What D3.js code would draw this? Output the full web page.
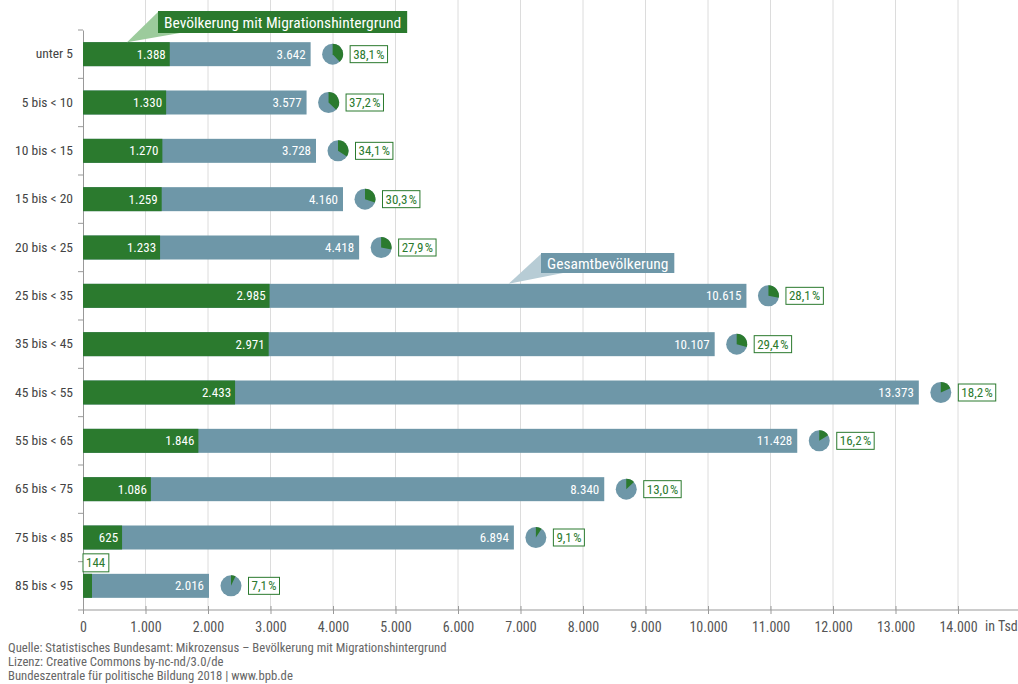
<!DOCTYPE html>
<html><head><meta charset="utf-8">
<script src="https://cdn.jsdelivr.net/npm/d3@7"></script>
<style>
html,body{margin:0;padding:0;background:#fff;}
svg{display:block;}
text{font-family:"Roboto Condensed","Liberation Sans Narrow","DejaVu Sans Condensed",Roboto,sans-serif;}
</style></head>
<body>
<svg id="chart" width="1018" height="684"></svg>
<script>
const categories = ["unter 5","5 bis < 10","10 bis < 15","15 bis < 20","20 bis < 25","25 bis < 35","35 bis < 45","45 bis < 55","55 bis < 65","65 bis < 75","75 bis < 85","85 bis < 95"];
const migration = [1388,1330,1270,1259,1233,2985,2971,2433,1846,1086,625,144];
const total = [3642,3577,3728,4160,4418,10615,10107,13373,11428,8340,6894,2016];
const share = [38.1,37.2,34.1,30.3,27.9,28.1,29.4,18.2,16.2,13.0,9.1,7.1];
const tickValues = [0,1000,2000,3000,4000,5000,6000,7000,8000,9000,10000,11000,12000,13000,14000];
const gridValues = [1000,2000,3000,4000,5000,6000,7000,8000,9000,10000,11000,12000,13000,14000,15000];
const footer = ["Quelle: Statistisches Bundesamt: Mikrozensus – Bevölkerung mit Migrationshintergrund","Lizenz: Creative Commons by-nc-nd/3.0/de","Bundeszentrale für politische Bildung 2018 | www.bpb.de"];

const GREEN = "#2b7a2e", BLUE = "#6e97a8", LGREEN = "#9ccb9c", LBLUE = "#b7ccd5";
const de = d3.formatLocale({decimal:",", thousands:".", grouping:[3], currency:["","€"]});
const fmt = de.format(",d");
const fmtP = v => de.format(".1f")(v) + "\u200A%";

const svg = d3.select("#chart");
const x = d3.scaleLinear().domain([0,15000]).range([83,1020.5]);
const y = d3.scaleBand().domain(categories).range([30,610]).paddingInner(0).paddingOuter(0);
const barH = 24;
const cy = c => y(c) + y.bandwidth()/2;

// gridlines
svg.append("g").selectAll("line").data(gridValues).join("line")
  .attr("x1",d=>x(d)).attr("x2",d=>x(d)).attr("y1",0).attr("y2",610)
  .attr("stroke","#dcdcdc").attr("stroke-width",1);

// x axis
const xAxis = d3.axisBottom(x).tickValues(tickValues).tickSize(4).tickPadding(8).tickFormat(d=>fmt(d));
const gx = svg.append("g").attr("transform","translate(0,610)").call(xAxis);
gx.select(".domain").attr("d","M83,0H1018").attr("stroke","#999");
gx.selectAll(".tick line").attr("y1",-4).attr("y2",4).attr("stroke","#999");
gx.selectAll(".tick text").attr("fill","#555").attr("font-size",14).style("font-family",null);
gx.append("text").attr("x",985).attr("y",21).attr("fill","#555").attr("font-size",14).attr("text-anchor","start").text("in Tsd");

// y axis
const yAxis = d3.axisLeft(y).tickSize(0).tickPadding(10);
const gy = svg.append("g").attr("transform","translate(83,0)").call(yAxis);
gy.select(".domain").attr("stroke","#999");
gy.selectAll(".tick text").attr("fill","#444").attr("font-size",13.5);
const bounds = categories.map(c=>y(c)).concat([610]);
svg.append("g").selectAll("line").data(bounds).join("line")
  .attr("x1",78).attr("x2",83).attr("y1",d=>d).attr("y2",d=>d).attr("stroke","#999");

const rows = categories.map((c,i)=>({c,m:migration[i],t:total[i],s:share[i]}));

// bars
const g = svg.append("g");
g.selectAll(".tot").data(rows).join("rect").attr("class","tot")
  .attr("x",x(0)).attr("y",d=>cy(d.c)-barH/2).attr("width",d=>x(d.t)-x(0)).attr("height",barH).attr("fill",BLUE);
g.selectAll(".mig").data(rows).join("rect").attr("class","mig")
  .attr("x",x(0)).attr("y",d=>cy(d.c)-barH/2).attr("width",d=>x(d.m)-x(0)).attr("height",barH).attr("fill",GREEN);

// value labels
g.selectAll(".tl").data(rows).join("text").attr("class","tl")
  .attr("x",d=>x(d.t)-5).attr("y",d=>cy(d.c)).attr("dy","0.35em").attr("text-anchor","end")
  .attr("fill","#fff").attr("font-size",13).text(d=>fmt(d.t));
const inside = rows.filter(d=>x(d.m)-x(0) > 25);
g.selectAll(".ml").data(inside).join("text").attr("class","ml")
  .attr("x",d=>x(d.m)-4).attr("y",d=>cy(d.c)).attr("dy","0.35em").attr("text-anchor","end")
  .attr("fill","#fff").attr("font-size",13).text(d=>fmt(d.m));
rows.filter(d=>x(d.m)-x(0) <= 25).forEach(d=>{
  const gg = svg.append("g");
  const t = gg.append("text").attr("x",x(0)+3).attr("y",cy(d.c)-23).attr("dy","0.35em")
    .attr("fill",GREEN).attr("font-size",13).text(fmt(d.m));
  const bb = t.node().getBBox();
  gg.insert("rect","text").attr("x",x(0)).attr("y",cy(d.c)-32).attr("width",bb.width+6).attr("height",18)
    .attr("fill","#fff").attr("stroke",GREEN).attr("stroke-width",1);
});

// pies
const arc = d3.arc().innerRadius(0).outerRadius(10.5);
rows.forEach(d=>{
  const px = x(d.t)+22, py = cy(d.c);
  const pg = svg.append("g").attr("transform",`translate(${px},${py})`);
  pg.append("circle").attr("r",10.5).attr("fill",BLUE);
  pg.append("path").attr("d",arc({startAngle:0,endAngle:d.s/100*2*Math.PI})).attr("fill",GREEN);
  const bg = svg.append("g");
  const t = bg.append("text").attr("x",x(d.t)+42.5).attr("y",py).attr("dy","0.35em")
    .attr("fill",GREEN).attr("font-size",13).text(fmtP(d.s));
  const bb = t.node().getBBox();
  bg.insert("rect","text").attr("x",x(d.t)+39.5).attr("y",py-8.5).attr("width",bb.width+6).attr("height",17)
    .attr("fill","#fff").attr("stroke",GREEN).attr("stroke-width",1);
});

// callouts
function callout(text, fill, light, row, val, bx, by, bh) {
  const tipX = x(val), tipY = cy(row) - barH/2;
  const cg = svg.append("g");
  cg.append("polygon").attr("points",`${bx},${by+1} ${tipX},${tipY} ${bx+22},${by+bh}`).attr("fill",light);
  const r = cg.append("rect").attr("x",bx).attr("y",by).attr("height",bh).attr("fill",fill);
  const t = cg.append("text").attr("x",bx+6).attr("y",by+bh/2).attr("dy","0.36em").attr("fill","#fff")
    .attr("font-size",15.5).text(text);
  r.attr("width",t.node().getBBox().width+12);
}
callout("Bevölkerung mit Migrationshintergrund", GREEN, LGREEN, categories[0], 704, 158, 11, 22);
callout("Gesamtbevölkerung", BLUE, LBLUE, categories[5], 6810, 541, 253, 20);

// footer
svg.append("g").selectAll("text").data(footer).join("text")
  .attr("x",8).attr("y",(d,i)=>652+i*14).attr("fill","#666").attr("font-size",12.7).text(d=>d);
</script>
</body></html>
